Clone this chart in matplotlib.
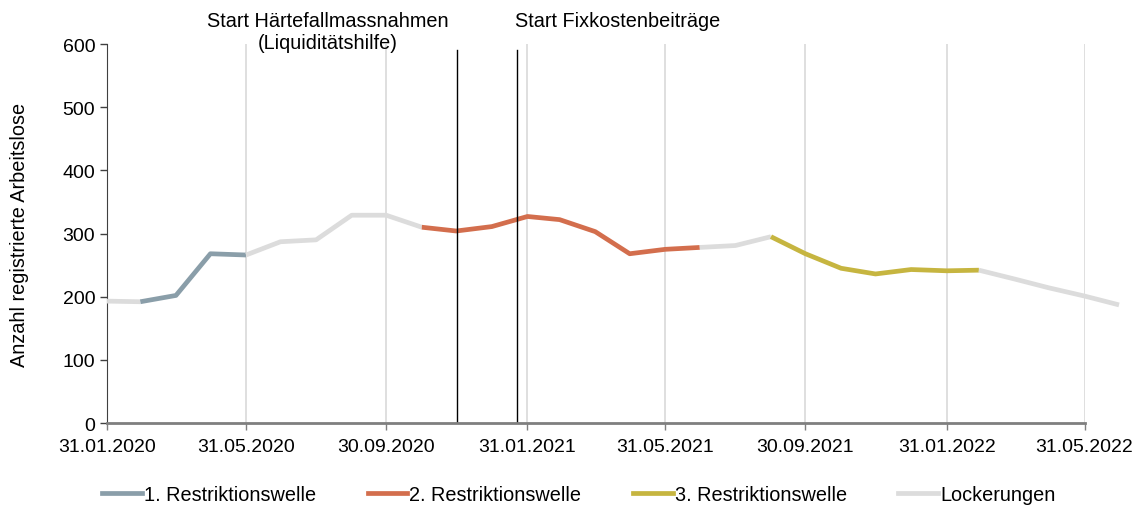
import pandas as pd
import matplotlib
matplotlib.use("Agg")
import matplotlib.pyplot as plt
import matplotlib.dates as mdates
from matplotlib.lines import Line2D

plt.rcParams['font.family'] = ['Liberation Sans', 'DejaVu Sans']

# month-end values
dates = pd.date_range("2020-01-31", "2022-06-30", freq="ME")
arbeitslose = [193, 192, 202, 268, 266, 287, 290, 329, 329, 310, 304, 311,
               327, 322, 303, 268, 275, 278, 281, 295, 268, 245, 236, 243,
               241, 242, 228, 214, 201, 187]

# phase of each interval between consecutive months
phases = (["L"] + ["R1"] * 3 + ["L"] * 5 + ["R2"] * 8 + ["L"] * 2
          + ["R3"] * 6 + ["L"] * 4)

phase_names = {"R1": "1. Restriktionswelle", "R2": "2. Restriktionswelle",
               "R3": "3. Restriktionswelle", "L": "Lockerungen"}
phase_colors = {"R1": "#8a9ea9", "R2": "#d36e4d", "R3": "#c6b540", "L": "#dcdcdc"}

events = [("2020-12-01", "Start Härtefallmassnahmen\n(Liquiditätshilfe)"),
          ("2021-01-22", "Start Fixkostenbeiträge")]

tick_dates = ["2020-01-31", "2020-05-31", "2020-09-30", "2021-01-31",
              "2021-05-31", "2021-09-30", "2022-01-31", "2022-05-31"]

fig = plt.figure(figsize=(11.46, 5.06), dpi=100)
ax = fig.add_axes([0.0934, 0.162, 0.853, 0.749])

# vertical grid at the date ticks
for d in tick_dates[1:]:
    ax.axvline(pd.Timestamp(d), color="#d9d9d9", lw=1.2, zorder=0)

# draw contiguous runs of the same phase as one line
start = 0
for i in range(1, len(phases) + 1):
    if i == len(phases) or phases[i] != phases[start]:
        ax.plot(dates[start:i + 1], arbeitslose[start:i + 1],
                color=phase_colors[phases[start]], lw=3.4,
                solid_capstyle="butt", solid_joinstyle="round",
                clip_on=False, zorder=3)
        start = i

for d, label in events:
    ax.plot([pd.Timestamp(d)] * 2, [0, 590], color="black", lw=1, zorder=4)

ax.text(pd.Timestamp("2020-08-10"), 588, events[0][1], ha="center", va="bottom",
        fontsize=14.3, linespacing=1.2)
ax.text(pd.Timestamp("2021-01-20"), 622, events[1][1], ha="left", va="bottom",
        fontsize=14.3)

ax.set_xlim(pd.Timestamp(tick_dates[0]), pd.Timestamp(tick_dates[-1]))
ax.set_ylim(0, 600)
ax.set_xticks([pd.Timestamp(d) for d in tick_dates])
ax.xaxis.set_major_formatter(mdates.DateFormatter("%d.%m.%Y"))
ax.set_yticks(range(0, 601, 100))
ax.tick_params(axis="both", labelsize=14, length=5, width=1)
ax.tick_params(axis="x", colors="#7f7f7f", labelcolor="black", pad=6)
ax.tick_params(axis="y", colors="#404040", labelcolor="black")

for side in ("top", "right"):
    ax.spines[side].set_visible(False)
ax.spines["left"].set_color("#404040")
ax.spines["bottom"].set_color("#7f7f7f")
ax.spines["bottom"].set_linewidth(2)
ax.spines["bottom"].set_zorder(5)

ax.set_ylabel("Anzahl registrierte Arbeitslose", fontsize=14.3, labelpad=24)

handles = [Line2D([], [], color=phase_colors[k], lw=3.4) for k in ("R1", "R2", "R3", "L")]
fig.legend(handles, [phase_names[k] for k in ("R1", "R2", "R3", "L")],
           loc="center", bbox_to_anchor=(0.505, 0.02), ncol=4, frameon=False,
           fontsize=14.3, handlelength=2.0, handletextpad=0.1, columnspacing=2.6)

fig.savefig("out.png", dpi=100)
